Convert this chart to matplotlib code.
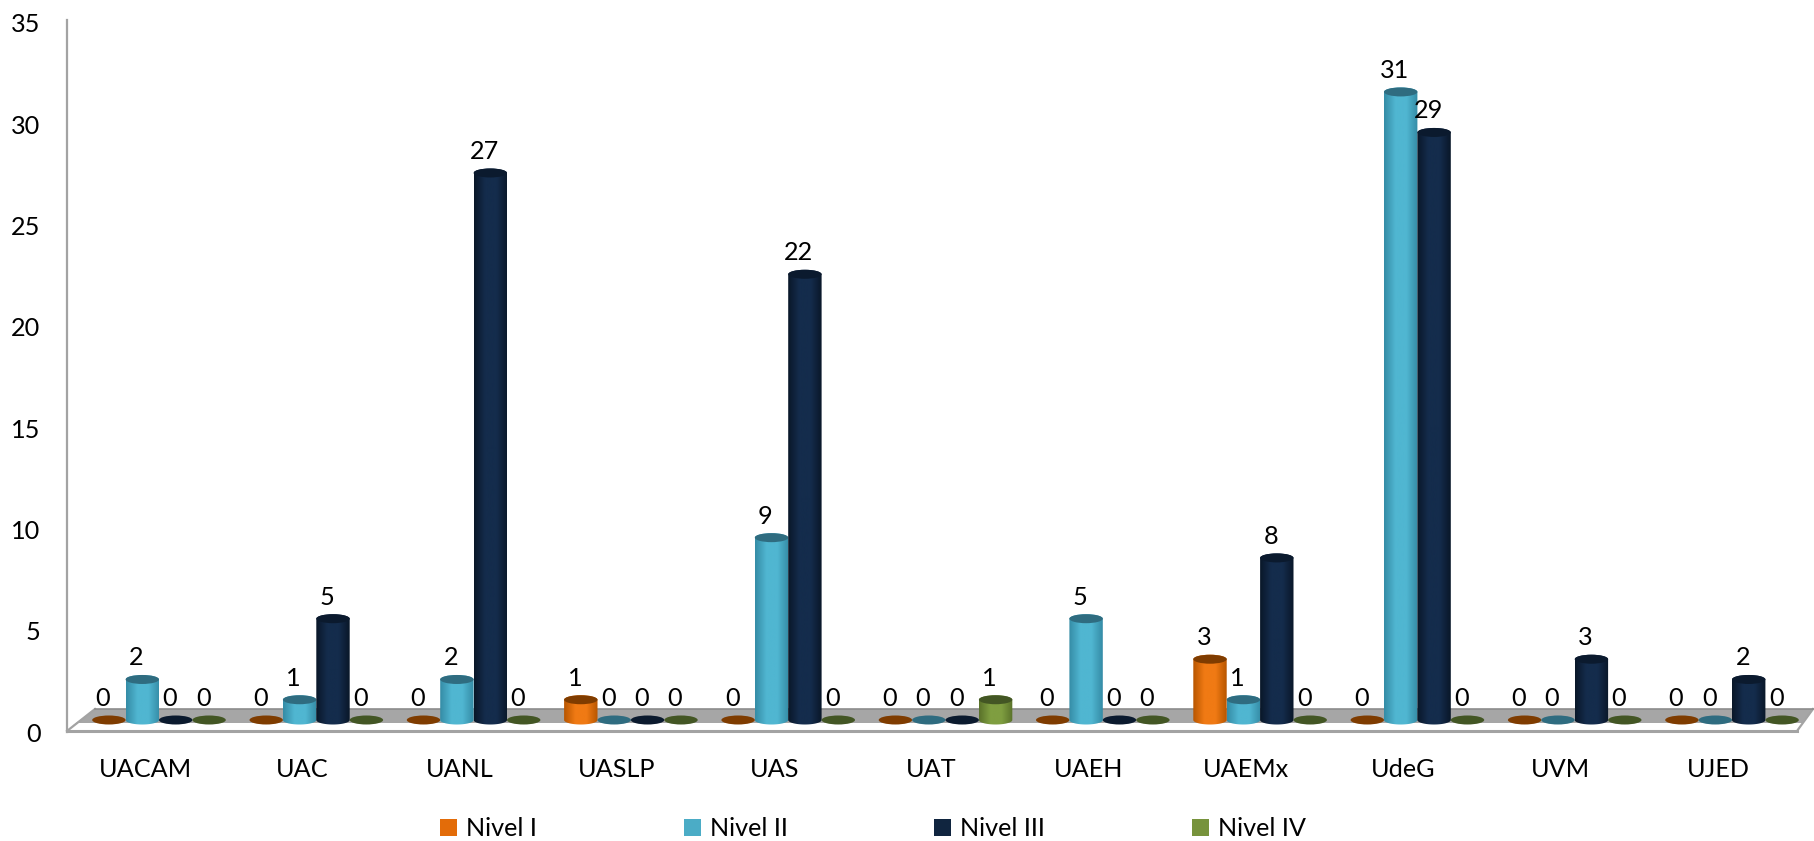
import numpy as np
import matplotlib
matplotlib.use('Agg')
import matplotlib.pyplot as plt
from matplotlib.colors import LinearSegmentedColormap
from matplotlib.patches import Ellipse, Patch, PathPatch, Polygon
from matplotlib.lines import Line2D
from matplotlib.path import Path

categories = ['UACAM', 'UAC', 'UANL', 'UASLP', 'UAS', 'UAT', 'UAEH', 'UAEMx', 'UdeG', 'UVM', 'UJED']
nivel_1 = [0, 0, 0, 1, 0, 0, 0, 3, 0, 0, 0]
nivel_2 = [2, 1, 2, 0, 9, 0, 5, 1, 31, 0, 0]
nivel_3 = [0, 5, 27, 0, 22, 0, 0, 8, 29, 3, 2]
nivel_4 = [0, 0, 0, 0, 0, 1, 0, 0, 0, 0, 0]
series_names = ['Nivel I', 'Nivel II', 'Nivel III', 'Nivel IV']
series = [nivel_1, nivel_2, nivel_3, nivel_4]
yticks = [0, 5, 10, 15, 20, 25, 30, 35]

# colours: legend, cylinder edge, cylinder middle, top ellipse
main_colors = ['#E36C09', '#4BACC6', '#10253F', '#77933C']
edge_colors = ['#B85600', '#358CA6', '#091729', '#5A722A']
mid_colors = ['#F07A14', '#50B6D1', '#142C4C', '#7F9E40']
top_colors = ['#7F3C00', '#2F6C80', '#0B1A2E', '#435624']

W, H = 1814, 841
FONT = 'Lato'
FS = 18.2
plt.rcParams['font.family'] = FONT


def px(x, y):
    return x / W, 1 - y / H


fig = plt.figure(figsize=(W / 100, H / 100), dpi=100)
fig.patch.set_facecolor('white')

# floor, behind the axes
fig.add_artist(Polygon([px(67, 731), px(95, 709), px(1813, 709), px(1797, 731)], closed=True,
                       transform=fig.transFigure, facecolor='white', edgecolor='none', zorder=0))
fig.add_artist(Polygon([px(72, 726), px(95, 709), px(1813, 709), px(1802, 723), px(78, 723)], closed=True,
                       transform=fig.transFigure, facecolor='#A6A6A6', edgecolor='none', zorder=0))
fig.add_artist(Line2D([px(67, 0)[0], px(1797, 0)[0]], [px(0, 731)[1]] * 2, color='#A3A3A3', lw=2.2, zorder=1))
fig.add_artist(Line2D([px(67, 0)[0], px(95, 0)[0]], [px(0, 731)[1], px(0, 709)[1]], color='#A3A3A3', lw=1.6, zorder=1))
fig.add_artist(Line2D([px(1797, 0)[0], px(1813, 0)[0]], [px(0, 731)[1], px(0, 709)[1]], color='#A3A3A3', lw=1.6, zorder=1))
fig.add_artist(Line2D([px(95, 0)[0], px(1813, 0)[0]], [px(0, 709)[1]] * 2, color='#8C8C8C', lw=1.2, zorder=1))

ax = fig.add_axes([67 / W, 1 - 732 / H, (W - 67) / W, (732 - 20) / H], zorder=5)
ax.patch.set_alpha(0)

group_step = 157.3
bar_w = 33.4 / group_step
base = 12 / 20.26
ell_h = 9 / 20.26
y_top = 712 / 20.26
x_left = (67 - 159) / group_step
x_right = (W - 159) / group_step


def cylinder(x, v, k, z):
    left, right = x - bar_w / 2, x + bar_w / 2
    if v > 0:
        t = np.linspace(0, np.pi, 40)
        top_x = x - np.cos(t) * bar_w / 2
        bot_x = x + np.cos(t) * bar_w / 2
        xs = np.concatenate([top_x, bot_x])
        ys = np.concatenate([base + v + np.sin(t) * ell_h / 2, base - np.sin(t) * ell_h / 2])
        outline = PathPatch(Path(np.column_stack([xs, ys]), closed=False), transform=ax.transData, facecolor='none', edgecolor='none')
        ax.add_patch(outline)
        cmap = LinearSegmentedColormap.from_list('c', [edge_colors[k], mid_colors[k], mid_colors[k], edge_colors[k]])
        grad = np.linspace(0, 1, 64).reshape(1, -1)
        im = ax.imshow(grad, extent=[left, right, base - ell_h, base + v + ell_h], aspect='auto', cmap=cmap, zorder=z)
        im.set_clip_path(outline)
    ax.add_patch(Ellipse((x, base + v), bar_w, ell_h, facecolor=top_colors[k], edgecolor='none', zorder=z + 0.1))


for k, vals in enumerate(series):
    for i, v in enumerate(vals):
        x = i + (k - 1.5) * bar_w
        cylinder(x, v, k, 3 + k + i * 5)
        ax.text(x - 6 / group_step, base + v + 21.5 / 20.26, str(v), ha='center', va='center',
                fontsize=FS, color='black', zorder=100)

ax.set_xlim(x_left, x_right)
ax.set_ylim(0, y_top)
ax.set_yticks(yticks)
ax.set_xticks(np.arange(len(categories)) - 14 / group_step)
ax.set_xticklabels(categories)
ax.tick_params(axis='both', length=0, labelsize=FS)
ax.tick_params(axis='y', pad=19)
ax.tick_params(axis='x', pad=18.5)
for s in ['top', 'right', 'bottom']:
    ax.spines[s].set_visible(False)
ax.spines['left'].set_color('#A3A3A3')
ax.spines['left'].set_linewidth(1.6)

handles = [Patch(facecolor=c, edgecolor='none') for c in main_colors]
fig.legend(handles, series_names, ncol=4, loc='lower left', bbox_to_anchor=(440 / W, 0.0006), frameon=False,
           fontsize=FS, handlelength=0.68, handleheight=0.68, handletextpad=0.35, columnspacing=5.8,
           borderpad=0, borderaxespad=0)

fig.savefig('out.png', dpi=100)
